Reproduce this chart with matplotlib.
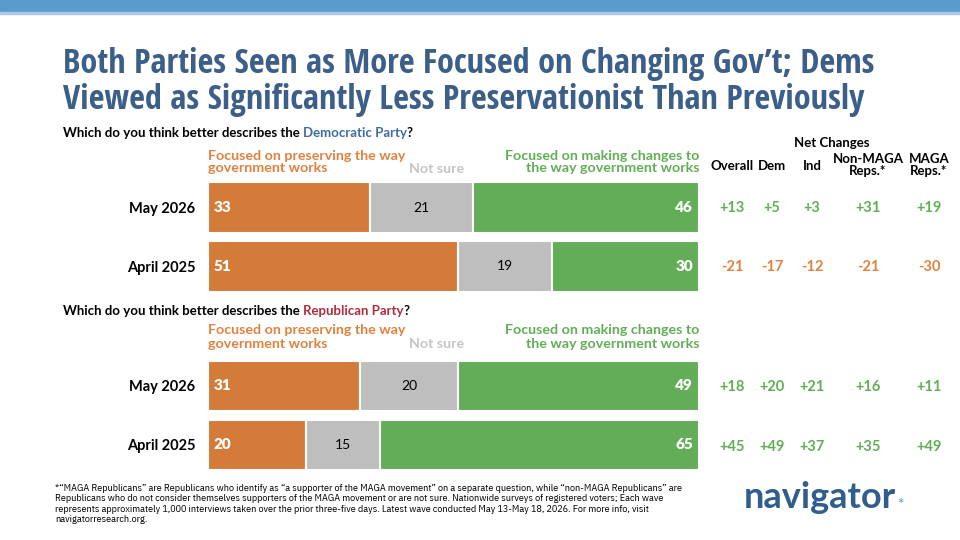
import matplotlib
matplotlib.use("Agg")
import matplotlib.pyplot as plt
from matplotlib.patches import Rectangle

# ---- data ----
waves = ["May 2026", "April 2025"]
dem_preserve = [33, 51]
dem_notsure = [21, 19]
dem_change = [46, 30]
rep_preserve = [31, 20]
rep_notsure = [20, 15]
rep_change = [49, 65]

net_cols = ["Overall", "Dem", "Ind", "Non-MAGA\nReps.*", "MAGA\nReps.*"]
dem_net_may = ["+13", "+5", "+3", "+31", "+19"]
dem_net_apr = ["-21", "-17", "-12", "-21", "-30"]
rep_net_may = ["+18", "+20", "+21", "+16", "+11"]
rep_net_apr = ["+45", "+49", "+37", "+35", "+49"]

ORANGE = "#D57B3A"
GRAY = "#BEBEBE"
GREEN = "#63AD58"
ORANGE_TXT = "#E0813F"
GREEN_TXT = "#62AE57"
GRAY_TXT = "#C4C4C4"
NAVY = "#3B5F88"

W, H = 960, 540
fig = plt.figure(figsize=(9.6, 5.4), dpi=100)
BODY = ["Lato", "DejaVu Sans"]
NARROW = ["Open Sans Condensed", "IBM Plex Sans Condensed", "DejaVu Sans"]
FOOT = ["IBM Plex Sans Condensed", "Open Sans Condensed", "DejaVu Sans"]


def fx(x):
    return x / W


def fy(y):
    return 1 - y / H


def txt(x, y, s, **kw):
    kw.setdefault("family", BODY)
    return fig.text(fx(x), fy(y), s, **kw)


# top band
fig.patches.append(Rectangle((0, fy(12)), 1, 12 / H, transform=fig.transFigure,
                             color="#5B9BCC", zorder=0))
fig.patches.append(Rectangle((0, fy(14)), 1, 2 / H, transform=fig.transFigure,
                             color="#A9CBE6", zorder=0))

# title
txt(63, 64, "Both Parties Seen as More Focused on Changing Gov’t; Dems",
    fontsize=24.7, fontweight="bold", color=NAVY, family=NARROW, va="center")
txt(63, 100, "Viewed as Significantly Less Preservationist Than Previously",
    fontsize=24.7, fontweight="bold", color=NAVY, family=NARROW, va="center")


def question(y, party, color):
    r = fig.canvas.get_renderer()
    x = 63
    for s, c in [("Which do you think better describes the ", "black"),
                 (party, color), ("?", "black")]:
        t = txt(x, y, s, fontsize=9.5, fontweight="bold", color=c, va="center")
        bb = t.get_window_extent(renderer=r)
        x += bb.width


def legend_labels(y):
    txt(208, y, "Focused on preserving the way\ngovernment works", fontsize=10.3,
        fontweight="bold", color=ORANGE_TXT, va="center", linespacing=1.1)
    txt(437, y + 7, "Not sure", fontsize=10.3, fontweight="bold", color=GRAY_TXT,
        va="center", ha="center")
    txt(699, y, "Focused on making changes to\nthe way government works", fontsize=10.3,
        fontweight="bold", color=GREEN_TXT, va="center", ha="right",
        multialignment="right", linespacing=1.1)


def bars(top, preserve, notsure, change):
    ax = fig.add_axes([fx(208), fy(top + 118), fx(491), 118 / H])
    ypos = range(len(waves))
    left2 = [a + b for a, b in zip(preserve, notsure)]
    ax.barh(ypos, preserve, height=0.85, color=ORANGE, edgecolor="white", lw=1.5)
    ax.barh(ypos, notsure, left=preserve, height=0.85, color=GRAY,
            edgecolor="white", lw=1.5)
    ax.barh(ypos, change, left=left2, height=0.85, color=GREEN,
            edgecolor="white", lw=1.5)
    for i in ypos:
        ax.text(1.2, i, str(preserve[i]), color="white", fontweight="heavy",
                fontsize=11, va="center", ha="left", family=BODY)
        ax.text(preserve[i] + notsure[i] / 2, i, str(notsure[i]), color="black",
                fontsize=10, va="center", ha="center", family=BODY)
        ax.text(98.8, i, str(change[i]), color="white", fontweight="heavy",
                fontsize=11, va="center", ha="right", family=BODY)
    ax.set_xlim(0, 100)
    ax.set_ylim(len(waves) - 0.5, -0.5)
    ax.set_yticks(list(ypos))
    ax.set_yticklabels(waves, fontsize=10.5, fontweight="bold", family=BODY)
    ax.tick_params(axis="y", length=0, pad=9)
    ax.set_xticks([])
    for sp in ax.spines.values():
        sp.set_visible(False)
    ax.patch.set_alpha(0)
    return ax


col_x = [732, 772, 812, 868, 929]


def net_row(y, vals):
    for x, v in zip(col_x, vals):
        c = GREEN_TXT if v.startswith("+") else ORANGE_TXT
        txt(x, y, v, fontsize=10.5, fontweight="bold", color=c, ha="center",
            va="center")


# Democratic block
question(133, "Democratic Party", "#3E6C9C")
legend_labels(162)
bars(178, dem_preserve, dem_notsure, dem_change)

# net changes header
txt(832, 143, "Net Changes", fontsize=9.5, fontweight="bold", ha="center",
    va="center")
for x, lab in zip(col_x, net_cols):
    yy = 165 if "\n" in lab else 166
    txt(x, yy, lab, fontsize=9.5, fontweight="bold", ha="center", va="center",
        linespacing=1.0)
net_row(208, dem_net_may)
net_row(267, dem_net_apr)

# Republican block
question(311, "Republican Party", "#B12C3B")
legend_labels(337)
bars(356.5, rep_preserve, rep_notsure, rep_change)
net_row(387, rep_net_may)
net_row(447, rep_net_apr)

# footnote
txt(55, 504,
    "*“MAGA Republicans” are Republicans who identify as “a supporter of the MAGA movement” on a separate question, while “non-MAGA Republicans” are\n"
    "Republicans who do not consider themselves supporters of the MAGA movement or are not sure. Nationwide surveys of registered voters; Each wave\n"
    "represents approximately 1,000 interviews taken over the prior three-five days. Latest wave conducted May 13-May 18, 2026. For more info, visit\n"
    "navigatorresearch.org.",
    fontsize=7.3, family=FOOT, va="center", linespacing=1.15)

# logo
r = fig.canvas.get_renderer()
logo = txt(744, 497, "navigator", fontsize=26, fontweight="bold",
           color="#2F5E8E", va="center")
bb = logo.get_window_extent(renderer=r)
txt(744 + bb.width + 1, 505, "*", fontsize=11, fontweight="bold",
    color="#6FA7D6", va="center")

fig.savefig("out.png", dpi=100)
